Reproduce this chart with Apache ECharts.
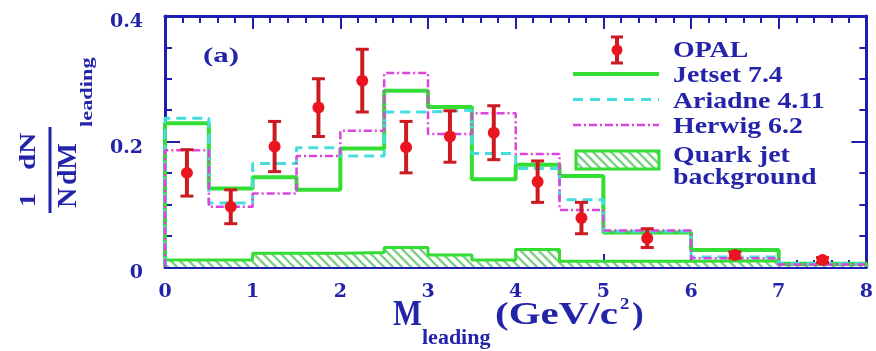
<!DOCTYPE html>
<html>
<head>
<meta charset="utf-8">
<script src="https://cdn.jsdelivr.net/npm/echarts@6/dist/echarts.min.js"></script>
<style>
  html, body { margin: 0; padding: 0; background: #ffffff; }
  #chart { width: 876px; height: 351px; }
</style>
</head>
<body>
<div id="chart"></div>
<script>
// Bin edges of the leading-system mass histograms (GeV/c^2)
const binEdges = [0, 0.5, 1, 1.5, 2, 2.5, 3, 3.5, 4, 4.5, 5, 6, 7, 8];

// Monte Carlo predictions, one value per bin
const jetset  = [0.229, 0.125, 0.143, 0.123, 0.189, 0.281, 0.255, 0.140, 0.163, 0.145, 0.055, 0.027, 0.005];
const ariadne = [0.237, 0.102, 0.165, 0.190, 0.177, 0.247, 0.250, 0.181, 0.157, 0.107, 0.057, 0.016, 0.005];
const herwig  = [0.186, 0.096, 0.117, 0.177, 0.217, 0.309, 0.212, 0.245, 0.180, 0.091, 0.058, 0.014, 0.004];
// Quark jet background contribution
const quarkBackground = [0.011, 0.011, 0.022, 0.022, 0.023, 0.031, 0.019, 0.011, 0.028, 0.009, 0.009, 0.010, 0.004];

// OPAL measurement: bin centres, values and errors
const opalX   = [0.25, 0.75, 1.25, 1.75, 2.25, 2.75, 3.25, 3.75, 4.25, 4.75, 5.5, 6.5, 7.5];
const opalY   = [0.150, 0.096, 0.192, 0.254, 0.297, 0.191, 0.208, 0.214, 0.136, 0.078, 0.046, 0.019, 0.011];
const opalErr = [0.037, 0.027, 0.040, 0.046, 0.050, 0.041, 0.041, 0.043, 0.033, 0.025, 0.015, 0.005, 0.004];

// Axis tick labels
const xTickLabels = ['0', '1', '2', '3', '4', '5', '6', '7', '8'];
const yTickLabels = ['0', '0.2', '0.4'];

// Legend entries
const legendNames = ['OPAL', 'Jetset 7.4', 'Ariadne 4.11', 'Herwig 6.2', 'Quark jet', 'background'];

const BLUE = '#1d1db2';
const TEXT = '#2424aa';
const GREEN = '#33dd33';
const CYAN = '#44dede';
const MAGENTA = '#dd44dd';
const RED = '#ea1520';
const RED_BAR = '#cc1a22';
const SERIF = '"Liberation Serif", "Times New Roman", serif';

// Diagonal hatch used for the background histogram
function makeHatch() {
  const c = document.createElement('canvas');
  c.width = 9; c.height = 9;
  const g = c.getContext('2d');
  g.fillStyle = '#ffffff';
  g.fillRect(0, 0, 9, 9);
  g.strokeStyle = '#7fcf86';
  g.lineWidth = 2.4;
  g.beginPath();
  g.moveTo(-2, -2); g.lineTo(11, 11);
  g.moveTo(-11, -2); g.lineTo(2, 11);
  g.moveTo(7, -2); g.lineTo(20, 11);
  g.stroke();
  return { image: c, repeat: 'repeat' };
}
const hatch = makeHatch();

// Turn per-bin values into a closed step outline
function stepPoints(vals) {
  const last = binEdges[binEdges.length - 1];
  const pts = [[binEdges[0], 0]];
  vals.forEach((v, i) => pts.push([binEdges[i], v]));
  pts.push([last, vals[vals.length - 1]]);
  pts.push([last, 0]);
  return pts;
}

const tickStyle = { color: BLUE, width: 2 };
const labelStyle = { fontFamily: '"DejaVu Serif", serif', fontWeight: 'bold', fontSize: 19, color: TEXT };

function xAxisDef(position, showLabel) {
  return {
    type: 'value', min: 0, max: 8, interval: 1, position: position,
    axisLine: { show: true, onZero: false, lineStyle: { color: BLUE, width: 3 } },
    axisTick: { show: true, inside: true, length: 13, lineStyle: tickStyle },
    minorTick: { show: true, splitNumber: 5, length: 7, lineStyle: tickStyle },
    splitLine: { show: false }, minorSplitLine: { show: false },
    axisLabel: Object.assign({ show: showLabel, margin: 16, formatter: (v, i) => xTickLabels[i] }, labelStyle)
  };
}
function yAxisDef(position, showLabel) {
  return {
    type: 'value', min: 0, max: 0.4, interval: 0.2, position: position,
    axisLine: { show: true, onZero: false, lineStyle: { color: BLUE, width: 3 } },
    axisTick: { show: true, inside: true, length: 15, lineStyle: tickStyle },
    minorTick: { show: true, splitNumber: 4, length: 7, lineStyle: tickStyle },
    splitLine: { show: false }, minorSplitLine: { show: false },
    axisLabel: Object.assign({
      show: showLabel, margin: 22, verticalAlign: 'top', lineHeight: 13,
      formatter: (v, i) => yTickLabels[i]
    }, labelStyle)
  };
}

function histSeries(name, vals, lineStyle, extra) {
  return Object.assign({
    name: name, type: 'line', step: 'end', data: stepPoints(vals),
    showSymbol: false, symbol: 'none', lineStyle: lineStyle, silent: true,
    animation: false
  }, extra || {});
}

// Text helper for graphic labels
function txt(text, x, y, size, scaleX, extra) {
  return Object.assign({
    type: 'text', x: x, y: y, scaleX: scaleX || 1,
    style: { text: text, fill: TEXT, font: 'bold ' + size + 'px ' + SERIF, textAlign: 'left', textVerticalAlign: 'middle', verticalAlign: 'middle' }
  }, extra || {});
}

// Legend drawn at the upper right of the frame
const lgX = 573, lgW = 86, lgText = 673;
const lgRows = [51, 75.5, 102, 126.5, 156, 178];
const legend = [
  { type: 'line', shape: { x1: 617, y1: 37, x2: 617, y2: 63 }, style: { stroke: RED_BAR, lineWidth: 4 } },
  { type: 'line', shape: { x1: 611, y1: 37, x2: 623, y2: 37 }, style: { stroke: RED_BAR, lineWidth: 3 } },
  { type: 'line', shape: { x1: 611, y1: 63, x2: 623, y2: 63 }, style: { stroke: RED_BAR, lineWidth: 3 } },
  { type: 'circle', shape: { cx: 617, cy: 50, r: 5.5 }, style: { fill: RED } },
  { type: 'line', shape: { x1: lgX, y1: 74, x2: lgX + lgW, y2: 74 }, style: { stroke: GREEN, lineWidth: 4 } },
  { type: 'line', shape: { x1: lgX, y1: 99.5, x2: lgX + lgW, y2: 99.5 }, style: { stroke: CYAN, lineWidth: 3, lineDash: [10, 7] } },
  { type: 'line', shape: { x1: lgX, y1: 125, x2: lgX + lgW, y2: 125 }, style: { stroke: MAGENTA, lineWidth: 2.5, lineDash: [8, 3, 2, 3] } },
  { type: 'rect', shape: { x: 576, y: 151, width: 83, height: 18 }, style: { fill: hatch, stroke: GREEN, lineWidth: 3 } }
];
legendNames.forEach((n, i) => legend.push(txt(n, lgText, lgRows[i], 24, 1.16)));

// Y axis title, a fraction set vertically
const yTitle = {
  type: 'group', x: 50, y: 170, rotation: Math.PI / 2,
  children: [
    { type: 'line', shape: { x1: -43, y1: 0, x2: 43, y2: 0 }, style: { stroke: TEXT, lineWidth: 3 } },
    txt('1', -37, -21, 23, 1.2),
    txt('dN', 0, -21, 23, 1.27),
    txt('N', -38, 19, 28, 1.0),
    txt('dM', -15, 19, 28, 1.0),
    txt('leading', 43, 38, 16, 1.4)
  ]
};

// X axis title
const xTitle = [
  txt('M', 393, 316, 36, 0.85),
  txt('leading', 422, 338.5, 20, 1.1),
  txt('(GeV/c', 495, 316, 32, 1.28),
  txt('2', 620, 305, 17, 1.1),
  txt(')', 632, 316, 32, 1.1)
];

const chart = echarts.init(document.getElementById('chart'), null, { renderer: 'canvas' });
chart.setOption({
  animation: false,
  backgroundColor: '#ffffff',
  grid: { left: 165, right: 6, top: 16, bottom: 84, containLabel: false },
  xAxis: [xAxisDef('bottom', true), xAxisDef('top', false)],
  yAxis: [yAxisDef('left', true), yAxisDef('right', false)],
  series: [
    histSeries('Quark jet background', quarkBackground,
      { color: GREEN, width: 3 }, { areaStyle: { color: hatch, opacity: 1 }, z: 2 }),
    histSeries('Jetset 7.4', jetset, { color: GREEN, width: 4 }, { z: 3 }),
    histSeries('Ariadne 4.11', ariadne, { color: CYAN, width: 3, type: [10, 6] }, { z: 4 }),
    histSeries('Herwig 6.2', herwig, { color: MAGENTA, width: 2.5, type: [8, 3, 2, 3] }, { z: 5 }),
    {
      name: 'OPAL', type: 'custom', z: 10,
      data: opalX.map((x, i) => [x, opalY[i], opalErr[i]]),
      encode: { x: 0, y: 1 },
      renderItem: function (params, api) {
        const x = api.value(0), y = api.value(1), e = api.value(2);
        const c = api.coord([x, y]);
        const top = api.coord([x, y + e]);
        const bot = api.coord([x, y - e]);
        const cap = 6.5;
        return {
          type: 'group',
          children: [
            { type: 'line', shape: { x1: c[0], y1: top[1], x2: c[0], y2: bot[1] }, style: { stroke: RED_BAR, lineWidth: 4 } },
            { type: 'line', shape: { x1: c[0] - cap, y1: top[1], x2: c[0] + cap, y2: top[1] }, style: { stroke: RED_BAR, lineWidth: 3 } },
            { type: 'line', shape: { x1: c[0] - cap, y1: bot[1], x2: c[0] + cap, y2: bot[1] }, style: { stroke: RED_BAR, lineWidth: 3 } },
            { type: 'circle', shape: { cx: c[0], cy: c[1], r: 6 }, style: { fill: RED } }
          ]
        };
      }
    }
  ],
  graphic: [
    txt('(a)', 203, 56, 22, 1.4),
    yTitle
  ].concat(legend).concat(xTitle)
});
</script>
</body>
</html>
